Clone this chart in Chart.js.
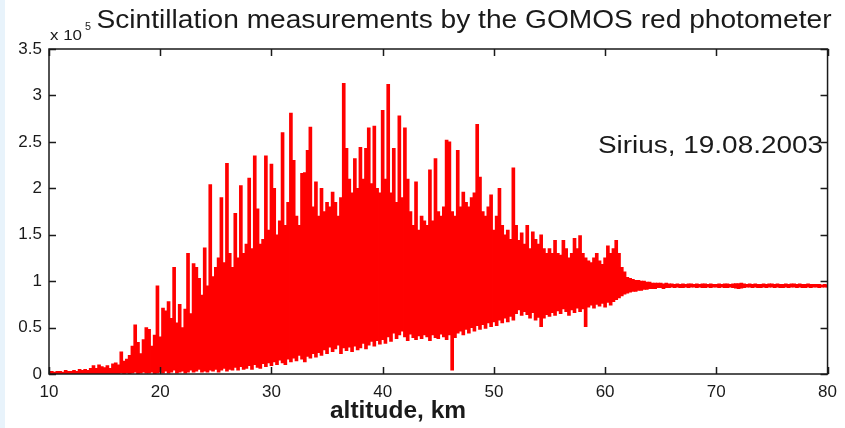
<!DOCTYPE html>
<html>
<head>
<meta charset="utf-8">
<script src="https://cdn.jsdelivr.net/npm/chart.js@4"></script>
<style>
  html, body { margin: 0; padding: 0; background: #fff; }
  #wrap {
    width: 845px; height: 428px; position: relative;
    background: linear-gradient(to right, #e8f3fb 0, #e8f3fb 5px, #fff 5px);
  }
</style>
</head>
<body>
<div id="wrap"><canvas id="myChart"></canvas></div>
<script>
// Signal, in units of 1e5, one pair per 0.25 km from 10 to 80 km
// hi = top of the trace in that slice, lo = bottom of the trace
const startAltitude = 10;
const altitudeStep = 0.25;

const hiValues = [
    0.02, 0.03, 0.02, 0.03,   // 10
    0.03, 0.02, 0.04, 0.03,   // 11
    0.03, 0.04, 0.03, 0.05,   // 12
    0.04, 0.05, 0.04, 0.06,   // 13
    0.09, 0.06, 0.10, 0.08,   // 14
    0.07, 0.09, 0.06, 0.11,   // 15
    0.12, 0.10, 0.24, 0.14,   // 16
    0.16, 0.20, 0.30, 0.53,   // 17
    0.34, 0.22, 0.37, 0.50,   // 18
    0.48, 0.30, 0.42, 0.95,   // 19
    0.40, 0.71, 0.68, 0.78,   // 20
    0.60, 1.15, 0.55, 0.75,   // 21
    0.50, 0.70, 1.30, 0.65,   // 22
    1.19, 1.15, 1.03, 0.85,   // 23
    1.36, 0.95, 2.04, 1.05,   // 24
    1.15, 1.25, 1.90, 1.20,   // 25
    2.27, 1.30, 1.15, 1.73,   // 26
    1.25, 2.03, 1.30, 1.40,   // 27
    2.11, 1.35, 2.35, 1.78,   // 28
    1.40, 1.45, 2.35, 1.55,   // 29
    2.26, 2.00, 1.50, 1.65,   // 30
    2.60, 1.60, 1.85, 2.81,   // 31
    2.30, 1.70, 1.60, 2.16,   // 32
    2.17, 2.41, 2.66, 1.80,   // 33
    2.07, 1.70, 2.00, 1.75,   // 34
    1.85, 1.80, 1.96, 1.85,   // 35
    1.70, 1.90, 3.13, 2.43,   // 36
    2.10, 1.95, 2.32, 2.00,   // 37
    2.44, 2.10, 2.43, 2.65,   // 38
    2.05, 2.67, 2.00, 1.95,   // 39
    2.84, 2.10, 3.12, 1.95,   // 40
    2.43, 1.85, 2.78, 1.90,   // 41
    2.65, 2.10, 1.75, 1.60,   // 42
    2.07, 1.55, 1.70, 1.65,   // 43
    1.60, 2.20, 1.65, 2.32,   // 44
    1.75, 1.70, 1.80, 2.52,   // 45
    2.50, 1.75, 1.70, 2.41,   // 46
    1.80, 1.96, 1.85, 1.80,   // 47
    1.90, 1.95, 2.69, 2.12,   // 48
    1.75, 1.70, 1.80, 1.93,   // 49
    1.55, 1.70, 2.00, 1.60,   // 50
    1.50, 1.55, 1.45, 2.22,   // 51
    1.60, 1.44, 1.52, 1.40,   // 52
    1.60, 1.35, 1.53, 1.45,   // 53
    1.40, 1.50, 1.35, 1.30,   // 54
    1.35, 1.30, 1.44, 1.30,   // 55
    1.28, 1.44, 1.35, 1.25,   // 56
    1.30, 1.46, 1.35, 1.49,   // 57
    1.30, 1.25, 1.22, 1.20,   // 58
    1.25, 1.30, 1.22, 1.18,   // 59
    1.25, 1.38, 1.30, 1.35,   // 60
    1.44, 1.30, 1.15, 1.10,   // 61
    1.04, 1.03, 1.02, 1.01,   // 62
    1.01, 1.00, 1.00, 0.99,   // 63
    0.99, 0.98, 0.98, 0.98,   // 64
    0.98, 0.97, 0.98, 0.97,   // 65
    0.97, 0.965, 0.97, 0.965, // 66
    0.97, 0.965, 0.97, 0.97,  // 67
    0.965, 0.97, 0.965, 0.97, // 68
    0.97, 0.965, 0.97, 0.965, // 69
    0.965, 0.97, 0.965, 0.97, // 70
    0.97, 0.965, 0.97, 0.975, // 71
    0.975, 0.98, 0.97, 0.965, // 72
    0.97, 0.965, 0.97, 0.965, // 73
    0.965, 0.97, 0.965, 0.97, // 74
    0.97, 0.965, 0.97, 0.965, // 75
    0.965, 0.97, 0.965, 0.97, // 76
    0.97, 0.965, 0.97, 0.965, // 77
    0.965, 0.97, 0.965, 0.965,// 78
    0.965, 0.965, 0.96, 0.965,// 79
    0.96                      // 80
];

const loValues = [
    0.00, 0.00, 0.00, 0.00,   // 10
    0.00, 0.00, 0.00, 0.00,   // 11
    0.00, 0.00, 0.00, 0.00,   // 12
    0.00, 0.00, 0.00, 0.00,   // 13
    0.00, 0.00, 0.00, 0.00,   // 14
    0.00, 0.00, 0.00, 0.00,   // 15
    0.00, 0.00, 0.01, 0.00,   // 16
    0.01, 0.00, 0.01, 0.02,   // 17
    0.00, 0.01, 0.02, 0.01,   // 18
    0.01, 0.02, 0.00, 0.01,   // 19
    0.02, 0.01, 0.03, 0.01,   // 20
    0.02, 0.04, 0.01, 0.02,   // 21
    0.03, 0.01, 0.02, 0.04,   // 22
    0.02, 0.03, 0.05, 0.02,   // 23
    0.03, 0.02, 0.04, 0.03,   // 24
    0.05, 0.02, 0.04, 0.06,   // 25
    0.03, 0.05, 0.04, 0.07,   // 26
    0.04, 0.08, 0.05, 0.06,   // 27
    0.09, 0.05, 0.10, 0.07,   // 28
    0.06, 0.11, 0.08, 0.12,   // 29
    0.09, 0.13, 0.10, 0.15,   // 30
    0.12, 0.10, 0.16, 0.13,   // 31
    0.17, 0.14, 0.20, 0.16,   // 32
    0.13, 0.19, 0.17, 0.22,   // 33
    0.18, 0.23, 0.20, 0.26,   // 34
    0.22, 0.29, 0.24, 0.27,   // 35
    0.31, 0.22, 0.28, 0.25,   // 36
    0.29, 0.24, 0.30, 0.26,   // 37
    0.28, 0.33, 0.27, 0.31,   // 38
    0.35, 0.30, 0.36, 0.32,   // 39
    0.37, 0.33, 0.40, 0.35,   // 40
    0.44, 0.38, 0.42, 0.46,   // 41
    0.40, 0.36, 0.43, 0.39,   // 42
    0.37, 0.41, 0.38, 0.42,   // 43
    0.40, 0.36, 0.42, 0.39,   // 44
    0.38, 0.43, 0.40, 0.37,   // 45
    0.42, 0.04, 0.39, 0.44,   // 46
    0.46, 0.42, 0.48, 0.44,   // 47
    0.50, 0.46, 0.52, 0.48,   // 48
    0.53, 0.49, 0.55, 0.51,   // 49
    0.56, 0.52, 0.58, 0.55,   // 50
    0.60, 0.56, 0.62, 0.58,   // 51
    0.65, 0.69, 0.63, 0.67,   // 52
    0.64, 0.60, 0.66, 0.58,   // 53
    0.61, 0.51, 0.60, 0.64,   // 54
    0.62, 0.66, 0.63, 0.68,   // 55
    0.65, 0.70, 0.67, 0.63,   // 56
    0.69, 0.66, 0.71, 0.67,   // 57
    0.70, 0.51, 0.72, 0.74,   // 58
    0.71, 0.75, 0.73, 0.76,   // 59
    0.72, 0.77, 0.74, 0.78,   // 60
    0.80, 0.82, 0.84, 0.86,   // 61
    0.87, 0.88, 0.89, 0.89,   // 62
    0.90, 0.90, 0.91, 0.91,   // 63
    0.92, 0.92, 0.92, 0.93,   // 64
    0.93, 0.92, 0.93, 0.93,   // 65
    0.935, 0.93, 0.935, 0.93, // 66
    0.93, 0.935, 0.93, 0.935, // 67
    0.935, 0.93, 0.935, 0.93, // 68
    0.93, 0.935, 0.93, 0.935, // 69
    0.935, 0.93, 0.935, 0.93, // 70
    0.93, 0.935, 0.93, 0.925, // 71
    0.92, 0.925, 0.93, 0.935, // 72
    0.935, 0.93, 0.935, 0.93, // 73
    0.93, 0.935, 0.93, 0.935, // 74
    0.935, 0.93, 0.935, 0.93, // 75
    0.93, 0.935, 0.93, 0.935, // 76
    0.935, 0.93, 0.935, 0.93, // 77
    0.93, 0.935, 0.93, 0.935, // 78
    0.935, 0.93, 0.935, 0.935,// 79
    0.935                     // 80
];

const xTicks = [10, 20, 30, 40, 50, 60, 70, 80];
const yTicks = [0, 0.5, 1, 1.5, 2, 2.5, 3, 3.5];

const titleText = 'Scintillation measurements by the GOMOS red photometer';
const noteText = 'Sirius, 19.08.2003';
const xLabelText = 'altitude, km';

const FONT = '"Liberation Sans", Arial, Helvetica, sans-serif';
const INK = '#1a1a1a';

// one floating bar [lo, hi] per altitude slice
const signal = hiValues.map((hi, i) => ({
    x: startAltitude + i * altitudeStep,
    y: [loValues[i], hi]
}));

// draws text fitted to a given width (the original uses a wider font)
function wideText(ctx, text, font, x, y, width, align) {
    ctx.save();
    ctx.font = font;
    const w = ctx.measureText(text).width;
    let left = x;
    if (align === 'center') left = x - width / 2;
    if (align === 'right') left = x - width;
    ctx.translate(left, y);
    ctx.scale(width / w, 1);
    ctx.textAlign = 'left';
    ctx.fillText(text, 0, 0);
    ctx.restore();
}

// MATLAB style box, inward ticks and the free text
const matlabFrame = {
    id: 'matlabFrame',
    afterDraw(chart) {
        const { ctx, chartArea: a, scales: { x, y } } = chart;
        ctx.save();
        ctx.strokeStyle = INK;
        ctx.lineWidth = 1.5;
        ctx.strokeRect(a.left, a.top, a.right - a.left, a.bottom - a.top);

        ctx.beginPath();
        xTicks.forEach(v => {
            const px = Math.round(x.getPixelForValue(v)) + 0.5;
            ctx.moveTo(px, a.bottom); ctx.lineTo(px, a.bottom - 7);
            ctx.moveTo(px, a.top); ctx.lineTo(px, a.top + 7);
        });
        yTicks.forEach(v => {
            const py = Math.round(y.getPixelForValue(v)) + 0.5;
            ctx.moveTo(a.left, py); ctx.lineTo(a.left + 7, py);
            ctx.moveTo(a.right, py); ctx.lineTo(a.right - 7, py);
        });
        ctx.stroke();

        ctx.fillStyle = INK;
        ctx.textBaseline = 'alphabetic';

        wideText(ctx, titleText, '25px ' + FONT, 464, 28, 735, 'center');
        wideText(ctx, 'x 10', '15px ' + FONT, 50, 40, 32, 'left');
        wideText(ctx, '5', '10px ' + FONT, 85, 30, 6, 'left');
        wideText(ctx, noteText, '23px ' + FONT, 823, 153, 225, 'right');
        wideText(ctx, xLabelText, 'bold 23px ' + FONT, 398, 418, 136, 'center');
        ctx.restore();
    }
};

const config = {
    type: 'bar',
    data: {
        datasets: [{
            label: 'red photometer',
            data: signal,
            backgroundColor: '#ff0000',
            borderWidth: 0,
            barThickness: 3
        }]
    },
    options: {
        responsive: true,
        maintainAspectRatio: false,
        animation: false,
        layout: { padding: { top: 49, right: 13, left: 0, bottom: 0 } },
        plugins: {
            legend: { display: false },
            tooltip: { enabled: false }
        },
        scales: {
            x: {
                type: 'linear',
                min: 10,
                max: 80,
                offset: false,
                grid: { display: false, drawTicks: false },
                border: { display: false },
                afterFit: s => { s.height = 54; },
                afterBuildTicks: s => { s.ticks = xTicks.map(v => ({ value: v })); },
                ticks: {
                    padding: 8,
                    maxRotation: 0,
                    color: INK,
                    font: { size: 17, family: FONT },
                    callback: v => String(v)
                }
            },
            y: {
                min: 0,
                max: 3.5,
                grid: { display: false, drawTicks: false },
                border: { display: false },
                afterFit: s => { s.width = 49; },
                afterBuildTicks: s => { s.ticks = yTicks.map(v => ({ value: v })); },
                ticks: {
                    padding: 7,
                    color: INK,
                    font: { size: 17, family: FONT },
                    callback: v => String(v)
                }
            }
        }
    },
    plugins: [matlabFrame]
};

window.myChart = new Chart(document.getElementById('myChart'), config);
</script>
</body>
</html>
